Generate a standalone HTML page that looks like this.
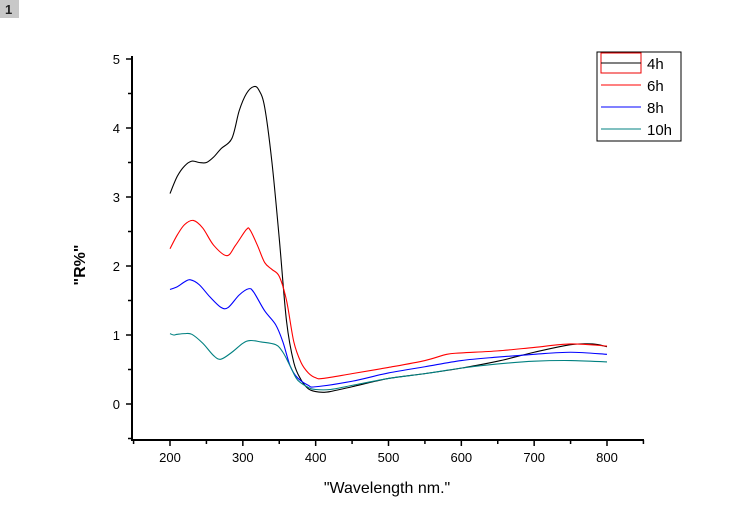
<!DOCTYPE html>
<html><head><meta charset="utf-8"><style>
body{margin:0;background:#fff;}
svg text{font-family:"Liberation Sans",Arial,sans-serif;}
</style></head><body>
<svg width="748" height="523" viewBox="0 0 748 523" xmlns="http://www.w3.org/2000/svg">
<rect x="0" y="0" width="748" height="523" fill="#fff"/>
<rect x="0" y="0" width="19" height="18" fill="#c8c8c8"/>
<text x="5" y="14" font-size="13" font-weight="bold" fill="#222">1</text>
<g id="axes"></g>
<g id="series"></g>
<text x="85" y="265" font-size="16" font-weight="bold" text-anchor="middle" transform="rotate(-90 85 265)">"R%"</text>
<text x="387" y="493" font-size="16" text-anchor="middle">"Wavelength nm."</text>
<g>
<rect x="597" y="52" width="84" height="89" fill="#fff" stroke="#000" stroke-width="1"/>
<rect x="601" y="53" width="40" height="20" fill="none" stroke="#e00" stroke-width="1"/>
<line x1="601" y1="63" x2="641" y2="63" stroke="#000"/>
<text x="647" y="69" font-size="15">4h</text>
<line x1="601" y1="85" x2="641" y2="85" stroke="#f00"/>
<text x="647" y="91" font-size="15">6h</text>
<line x1="601" y1="107" x2="641" y2="107" stroke="#00f"/>
<text x="647" y="113" font-size="15">8h</text>
<line x1="601" y1="129" x2="641" y2="129" stroke="#008080"/>
<text x="647" y="135" font-size="15">10h</text>
</g>
</svg>
<script>
const xTicks=[200,300,400,500,600,700,800];
const yTicks=[0,1,2,3,4,5];
const x4h=[200,210,220,230,240,250,260,270,285,295,305,315,322,330,340,350,360,370,380,390,400,410,420,450,500,550,600,650,700,750,780,800];
const y4h=[3.05,3.3,3.45,3.52,3.5,3.5,3.58,3.7,3.85,4.25,4.5,4.6,4.55,4.3,3.5,2.4,1.2,0.6,0.35,0.22,0.18,0.17,0.18,0.25,0.37,0.44,0.52,0.62,0.75,0.86,0.87,0.83];
const x6h=[200,210,220,232,245,260,278,290,305,310,320,330,340,350,360,370,380,390,400,410,450,500,550,580,600,650,700,750,800];
const y6h=[2.25,2.45,2.6,2.66,2.55,2.3,2.15,2.3,2.53,2.52,2.3,2.05,1.95,1.85,1.5,0.9,0.6,0.45,0.38,0.37,0.44,0.53,0.63,0.72,0.74,0.77,0.82,0.87,0.84];
const x8h=[200,210,220,228,240,255,270,280,295,308,315,330,345,355,365,375,390,400,450,500,550,600,650,700,750,800];
const y8h=[1.66,1.7,1.77,1.8,1.73,1.55,1.4,1.4,1.58,1.67,1.62,1.35,1.15,0.9,0.55,0.38,0.27,0.25,0.33,0.45,0.54,0.63,0.68,0.72,0.75,0.72];
const x10h=[200,205,210,220,230,245,260,270,285,300,310,325,345,355,365,375,390,400,420,450,500,550,600,650,700,750,800];
const y10h=[1.02,1.0,1.01,1.02,1.01,0.88,0.7,0.65,0.75,0.88,0.92,0.9,0.86,0.75,0.55,0.35,0.24,0.21,0.21,0.27,0.37,0.44,0.52,0.58,0.62,0.63,0.61];
const NS="http://www.w3.org/2000/svg";
function sx(v){return 170+(v-200)*(607-170)/600;}
function sy(v){return 404-v*69;}
function mk(t,a,p){const e=document.createElementNS(NS,t);for(const k in a)e.setAttribute(k,a[k]);p.appendChild(e);return e;}
const ax=document.getElementById('axes');
let l=mk('line',{x1:132,y1:56,x2:132,y2:440,stroke:'#000','stroke-width':2},ax);


l=mk('line',{x1:131,y1:440,x2:644,y2:440,stroke:'#000','stroke-width':2},ax);


for(let v=-0.5;v<=5;v+=0.5){const maj=Math.abs(v-Math.round(v))<1e-6&&v>=0;
 const t=mk('line',{x1:maj?126:128,y1:sy(v),x2:132,y2:sy(v),stroke:'#000','stroke-width':1.5},ax);
 
 }
yTicks.forEach(v=>{const t=mk('text',{x:120,y:sy(v)+5,'font-size':13,'text-anchor':'end'},ax);t.textContent=v;
 
 });
for(let v=150;v<=850;v+=50){const maj=v%100===0;
 const t=mk('line',{x1:sx(v),y1:440,x2:sx(v),y2:maj?446:444,stroke:'#000','stroke-width':1.5},ax);
 
 }
xTicks.forEach(v=>{const t=mk('text',{x:sx(v),y:462,'font-size':13,'text-anchor':'middle'},ax);t.textContent=v;
 
 });
function path(xs,ys){const p=xs.map((x,i)=>[sx(x),sy(ys[i])]);let d='M'+p[0][0]+','+p[0][1];
 for(let i=0;i<p.length-1;i++){const p0=p[i-1]||p[i],p1=p[i],p2=p[i+1],p3=p[i+2]||p2;
  d+=' C'+(p1[0]+(p2[0]-p0[0])/6)+','+(p1[1]+(p2[1]-p0[1])/6)+' '+(p2[0]-(p3[0]-p1[0])/6)+','+(p2[1]-(p3[1]-p1[1])/6)+' '+p2[0]+','+p2[1];}
 return d;}
const sg=document.getElementById('series');
[[x4h,y4h,'#000','line-4h'],[x6h,y6h,'#f00','line-6h'],[x8h,y8h,'#00f','line-8h'],[x10h,y10h,'#008080','line-10h']].forEach(s=>{
 const e=mk('path',{d:path(s[0],s[1]),fill:'none',stroke:s[2],'stroke-width':1.1},sg);
 
 });
</script>
</body></html>
